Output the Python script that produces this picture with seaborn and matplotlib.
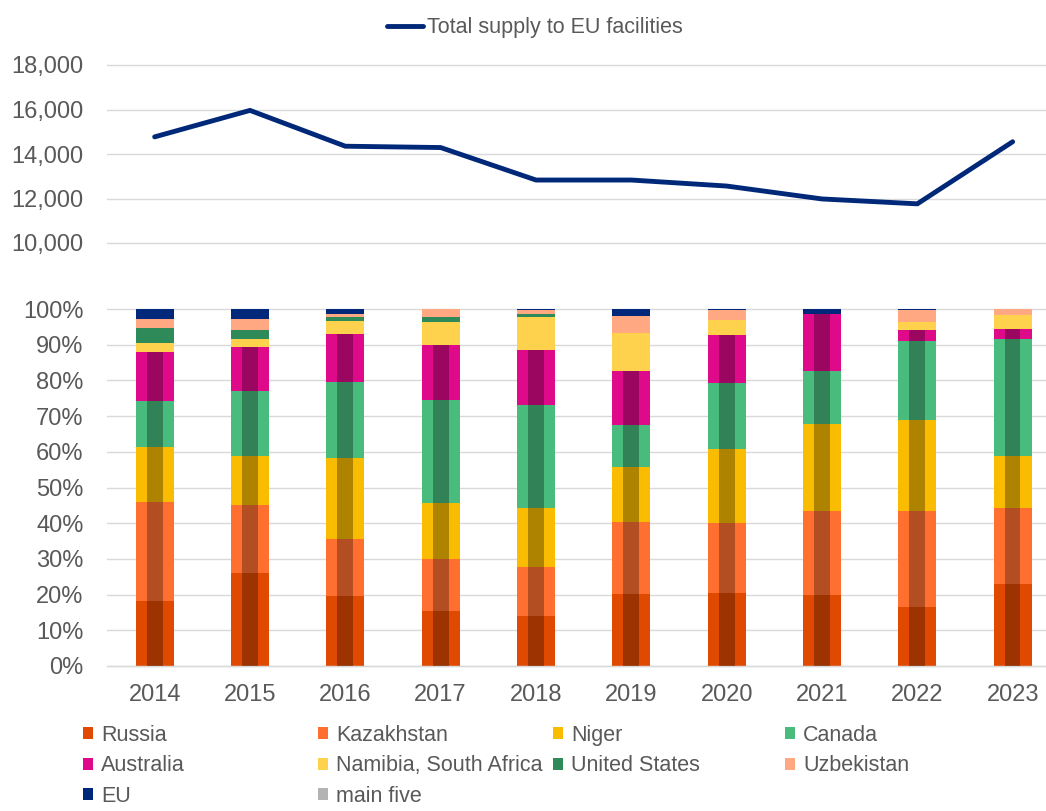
import numpy as np
import pandas as pd
import matplotlib
matplotlib.use("Agg")
import matplotlib.pyplot as plt
from matplotlib.patches import Patch
from matplotlib.lines import Line2D
import seaborn as sns

# ---------------- data ----------------
years = ["2014", "2015", "2016", "2017", "2018", "2019", "2020", "2021", "2022", "2023"]
total_supply = [14770, 15960, 14350, 14290, 12830, 12830, 12560, 11980, 11760, 14550]

countries = ["Russia", "Kazakhstan", "Niger", "Canada", "Australia",
             "Namibia, South Africa", "United States", "Uzbekistan", "EU"]
russia      = [18.3, 26.1, 19.5, 15.4, 13.9, 20.1, 20.5, 19.8, 16.6, 23.1]
kazakhstan  = [27.6, 19.1, 16.2, 14.7, 13.8, 20.2, 19.5, 23.5, 26.9, 21.2]
niger       = [15.4, 13.5, 22.7, 15.5, 16.5, 15.4, 20.7, 24.6, 25.4, 14.5]
canada      = [13.0, 18.2, 21.1, 28.9, 29.0, 11.9, 18.5, 14.6, 22.1, 32.9]
australia   = [13.7, 12.5, 13.6, 15.3, 15.3, 15.0, 13.5, 16.1,  3.0,  2.6]
namibia_sa  = [ 2.6,  2.3,  3.5,  6.5,  9.2, 10.8,  4.2,  0.0,  2.3,  4.0]
usa         = [ 4.1,  2.3,  1.1,  1.5,  1.0,  0.0,  0.0,  0.0,  0.0,  0.0]
uzbekistan  = [ 2.6,  3.2,  0.9,  2.2,  1.0,  4.6,  2.8,  0.0,  3.4,  1.7]
eu          = [ 2.7,  2.7,  1.4,  0.0,  0.3,  2.0,  0.3,  1.4,  0.3,  0.0]

colors = ["#E04A00", "#FF7030", "#F9BC00", "#48BB7D", "#DE0A8A",
          "#FFD24D", "#2F8A5A", "#FFA882", "#00287A"]
line_color = "#002878"
text_color = "#595959"
grid_color = "#D9D9D9"

series = [russia, kazakhstan, niger, canada, australia, namibia_sa, usa, uzbekistan, eu]
shares = pd.DataFrame({c: np.array(v) / 100.0 for c, v in zip(countries, series)}, index=years)
cum = shares.cumsum(axis=1)
main_five = shares[countries[:5]].sum(axis=1)

# ---------------- style ----------------
sns.set_theme(style="white")
plt.rcParams["font.family"] = ["Liberation Sans", "DejaVu Sans"]
plt.rcParams["text.color"] = text_color

W, H = 1046, 811
fig = plt.figure(figsize=(W / 100, H / 100), dpi=100)
left = 107 / W
width = 1 - left
ax_top = fig.add_axes([left, 1 - 243 / H, width, 178 / H])
ax_bot = fig.add_axes([left, 1 - 666 / H, width, 357 / H])

xlim = (-0.5, 9.35)

# ---------------- top: line ----------------
line_df = pd.DataFrame({"x": np.arange(len(years)), "total": total_supply})
sns.lineplot(data=line_df, x="x", y="total", ax=ax_top, color=line_color,
             linewidth=3.5, solid_joinstyle="round", solid_capstyle="round")
ax_top.set_xlim(*xlim)
ax_top.set_ylim(10000, 18000)
ax_top.set_yticks([10000, 12000, 14000, 16000, 18000])
ax_top.set_yticklabels([f"{v:,}" for v in [10000, 12000, 14000, 16000, 18000]])
ax_top.set_xticks([])
ax_top.set_xlabel("")
ax_top.set_ylabel("")
ax_top.grid(axis="y", color=grid_color, linewidth=1)
ax_top.set_axisbelow(True)
for gl in ax_top.get_ygridlines():
    gl.set_clip_on(False)
for s in ax_top.spines.values():
    s.set_visible(False)
ax_top.tick_params(axis="y", length=0, pad=17, labelsize=17, labelcolor=text_color)
ax_top.patch.set_alpha(0)

# ---------------- bottom: stacked bars ----------------
for i in range(len(countries) - 1, -1, -1):
    c = countries[i]
    df = pd.DataFrame({"year": years, "top": cum[c].values})
    sns.barplot(data=df, x="year", y="top", ax=ax_bot, color=colors[i],
                saturation=1, width=0.4, linewidth=0, edgecolor="none", zorder=2)
df5 = pd.DataFrame({"year": years, "main": main_five.values})
sns.barplot(data=df5, x="year", y="main", ax=ax_bot, color="black", alpha=0.3,
            saturation=1, width=0.165, linewidth=0, edgecolor="none", zorder=3)

ax_bot.set_xlim(*xlim)
ax_bot.set_ylim(0, 1.0)
yt = np.arange(0, 1.01, 0.1)
ax_bot.set_yticks(yt)
ax_bot.set_yticklabels([f"{int(round(v * 100))}%" for v in yt])
ax_bot.set_xlabel("")
ax_bot.set_ylabel("")
ax_bot.grid(axis="y", color=grid_color, linewidth=1, zorder=0)
ax_bot.set_axisbelow(True)
for gl in ax_bot.get_ygridlines():
    gl.set_clip_on(False)
for name, s in ax_bot.spines.items():
    if name == "bottom":
        s.set_color(grid_color)
        s.set_linewidth(1)
    else:
        s.set_visible(False)
ax_bot.tick_params(axis="y", length=0, pad=17, labelsize=17, labelcolor=text_color)
ax_bot.tick_params(axis="x", length=0, pad=13, labelsize=17, labelcolor=text_color)

# ---------------- legends ----------------
top_handle = [Line2D([0], [0], color=line_color, linewidth=3.5, solid_capstyle="round")]
fig.legend(top_handle, ["Total supply to EU facilities"], loc="center",
           bbox_to_anchor=(0.511, 1 - 28 / H), frameon=False, fontsize=15.5,
           handlelength=1.7, handletextpad=0.15, borderpad=0, labelcolor=text_color)

labels_all = countries + ["main five"]
colors_all = colors + ["#B3B3B3"]
ncol = 4
col_x = [83, 318, 553, 785]
for ci in range(ncol):
    idx = list(range(ci, len(labels_all), ncol))
    handles = [Patch(facecolor=colors_all[k], edgecolor="none") for k in idx]
    labs = [labels_all[k] for k in idx]
    fig.legend(handles, labs, loc="upper left",
               bbox_to_anchor=(col_x[ci] / W, 1 - 725 / H), frameon=False,
               fontsize=15.5, handlelength=0.47, handleheight=0.47,
               handletextpad=0.37, labelspacing=0.44, borderpad=0,
               borderaxespad=0, labelcolor=text_color)

fig.savefig("out.png", dpi=100, facecolor="white")
